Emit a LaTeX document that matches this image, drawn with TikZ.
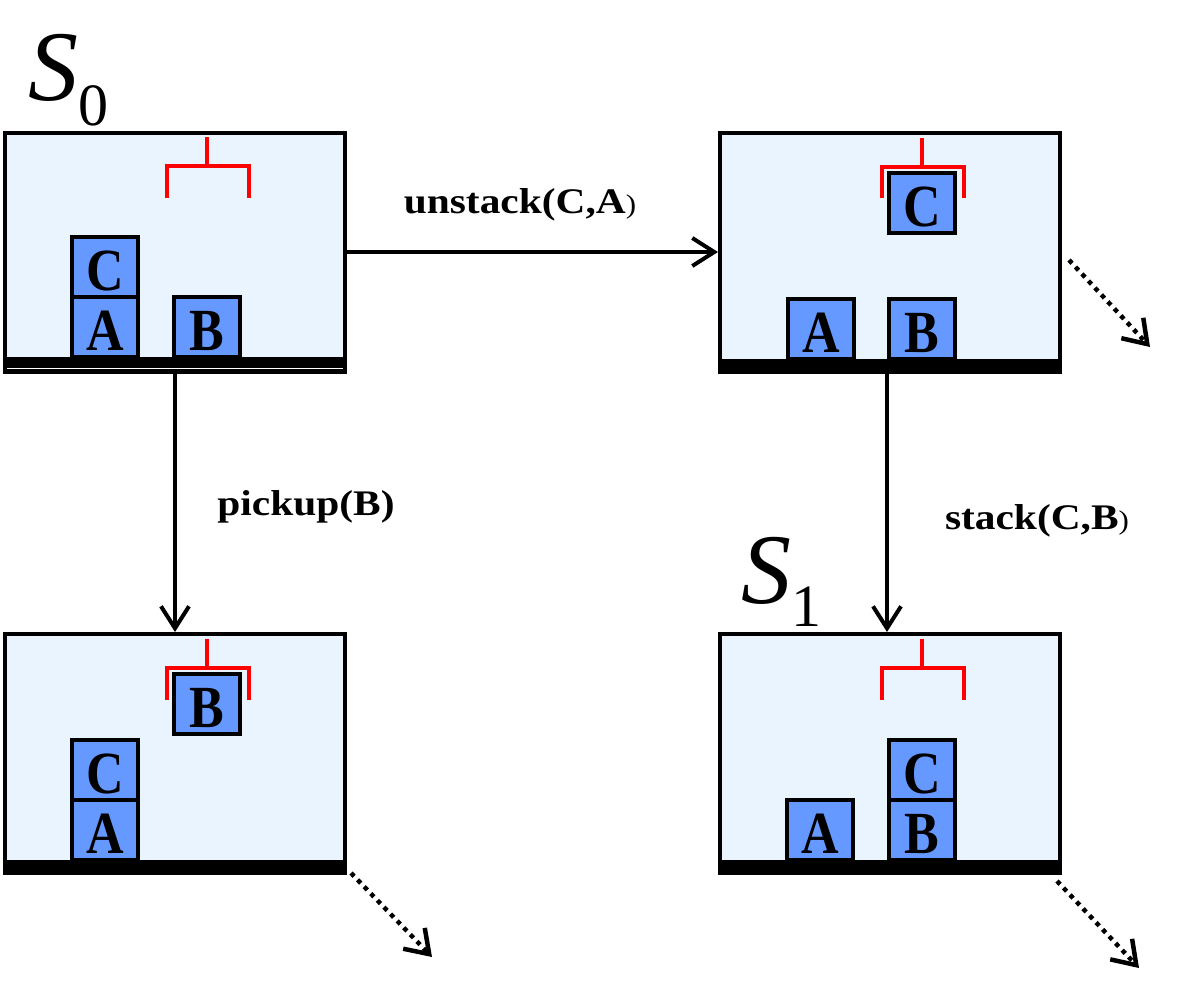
\documentclass[tikz,border=0pt]{standalone}
\usepackage{fontspec}
\setmainfont{Liberation Serif}
\usetikzlibrary{arrows.meta}

\definecolor{panelblue}{HTML}{EAF4FE}
\definecolor{blockblue}{HTML}{6699FF}

\tikzset{
  panelbox/.style={draw, line width=4pt, fill=panelblue, minimum width=340pt, minimum height=239pt, inner sep=0pt},
  blockbox/.style={draw, line width=4pt, fill=blockblue, minimum width=66pt, minimum height=60pt, inner sep=0pt,
    text height=47pt, text depth=0pt, font=\bfseries\fontsize{52}{52}\selectfont},
  tablebar/.style={fill=black},
  gripperline/.style={draw=red, line width=3.5pt},
  actarrow/.style={line width=4pt, -{Straight Barb[length=22pt,width=28pt]}},
  nextarrow/.style={line width=4.5pt, dash pattern=on 4.5pt off 5pt, -{Straight Barb[length=22pt,width=30pt]}},
  actlabel/.style={inner sep=0pt, font=\bfseries\fontsize{36}{36}\selectfont},
  statelabel/.style={inner sep=0pt}
}

\begin{document}
\begin{tikzpicture}[x=1pt,y=-1pt]
        \useasboundingbox (0,0) rectangle (1180,997);

        %States
        \node[panelbox] (s0) at (175,252) {};
        \node[panelbox] (sunstack) at (890,252) {};
        \node[panelbox] (spickup) at (175,753.5) {};
        \node[panelbox] (s1) at (890,753.5) {};

        %Tables
        \fill[tablebar] (s0.south west) rectangle ([yshift=17pt]s0.south east);
        \draw[white, line width=1.8pt] ([shift={(4,-5)}]s0.south west) -- ([shift={(-4,-5)}]s0.south east);
        \fill[tablebar] (sunstack.south west) rectangle ([yshift=15pt]sunstack.south east);
        \fill[tablebar] (spickup.south west) rectangle ([yshift=15pt]spickup.south east);
        \fill[tablebar] (s1.south west) rectangle ([yshift=15pt]s1.south east);

        %Initial state
        \node[statelabel, anchor=base west] (names0) at (28,100)
          {\fontsize{100}{100}\selectfont\textit{S}\raisebox{-25pt}{\fontsize{60}{60}\selectfont 0}};
        \node[blockbox] (c0) at (105,266.5) {\scalebox{1}[1.15]{C}};
        \node[blockbox] (a0) at (105,326.5) {\scalebox{1}[1.15]{A}};
        \node[blockbox] (b0) at (207,326.5) {\scalebox{1}[1.15]{B}};
        \draw[gripperline] (207,137) -- (207,166);
        \draw[gripperline] (167,198) -- (167,166) -- (249,166) -- (249,198);

        %After unstack
        \node[blockbox] (cunstack) at (922,202.5) {\scalebox{1}[1.15]{C}};
        \node[blockbox] (aunstack) at (821,328.5) {\scalebox{1}[1.15]{A}};
        \node[blockbox] (bunstack) at (922,328.5) {\scalebox{1}[1.15]{B}};
        \draw[gripperline] (922,138) -- (922,167);
        \draw[gripperline] (882,198) -- (882,167) -- (964,167) -- (964,198);

        %After pickup
        \node[blockbox] (bpickup) at (207,703.5) {\scalebox{1}[1.15]{B}};
        \node[blockbox] (cpickup) at (105,769.5) {\scalebox{1}[1.15]{C}};
        \node[blockbox] (apickup) at (105,829.5) {\scalebox{1}[1.15]{A}};
        \draw[gripperline] (207,639) -- (207,668);
        \draw[gripperline] (167,700) -- (167,668) -- (249,668) -- (249,700);

        %Goal state
        \node[statelabel, anchor=base west] (names1) at (741,603)
          {\fontsize{100}{100}\selectfont\textit{S}\raisebox{-23pt}{\fontsize{60}{60}\selectfont 1}};
        \node[blockbox] (cstack) at (922,770) {\scalebox{1}[1.15]{C}};
        \node[blockbox] (astack) at (820,830) {\scalebox{1}[1.15]{A}};
        \node[blockbox] (bstack) at (922,830) {\scalebox{1}[1.15]{B}};
        \draw[gripperline] (922,639) -- (922,668);
        \draw[gripperline] (882,700) -- (882,668) -- (964,668) -- (964,700);

        %Actions
        \draw[actarrow] (s0.east) -- (sunstack.west);
        \node[actlabel, anchor=base] (lunstack) at (520,213)
          {\scalebox{1.15}[1]{unstack(C,A{\fontsize{27}{27}\selectfont\mdseries )}}};
        \draw[actarrow] (s0.south) -- (spickup.north);
        \node[actlabel, anchor=base] (lpickup) at (306,515) {\scalebox{1.15}[1]{pickup(B)}};
        \draw[actarrow] ([xshift=-3pt]sunstack.south) -- ([xshift=-3pt]s1.north);
        \node[actlabel, anchor=base] (lstack) at (1037,529)
          {\scalebox{1.15}[1]{stack(C,B{\fontsize{27}{27}\selectfont\mdseries )}}};

        %Further steps
        \coordinate (nextunstack) at (1150,347);
        \coordinate (nextpickup) at (432,957);
        \coordinate (nextstack) at (1139,968);
        \draw[nextarrow] ([shift={(7,8)}]sunstack.east) -- (nextunstack);
        \draw[nextarrow] ([shift={(4,-2)}]spickup.south east) -- (nextpickup);
        \draw[nextarrow] ([shift={(-5,6)}]s1.south east) -- (nextstack);

\end{tikzpicture}
\end{document}
